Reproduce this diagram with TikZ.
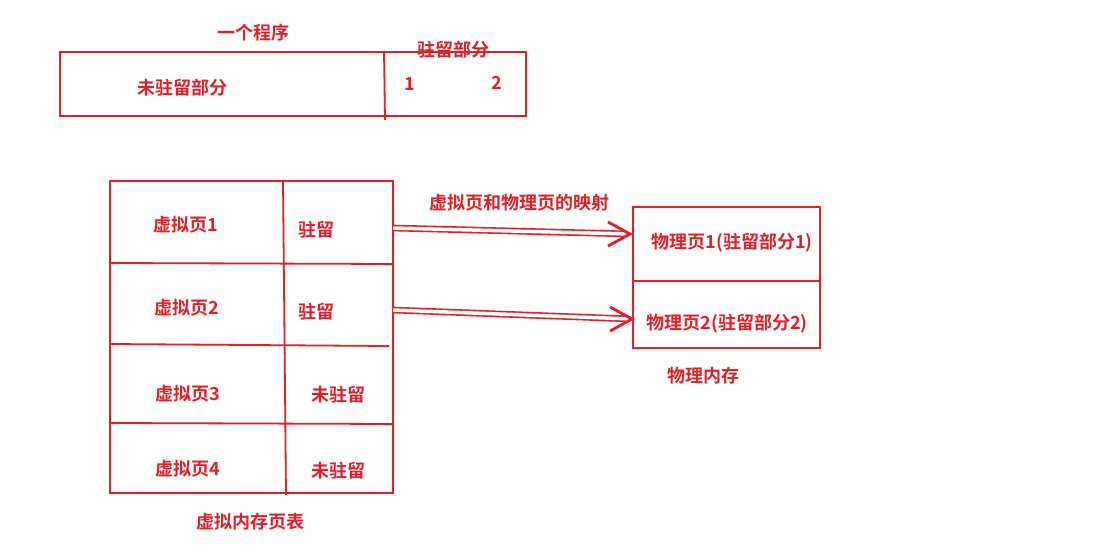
\documentclass[tikz,border=0pt]{standalone}
\usepackage{fontspec}
\setmainfont{Noto Sans CJK SC Bold}
\usetikzlibrary{arrows.meta, positioning, calc}
\definecolor{ink}{RGB}{232,28,36}

\begin{document}
\begin{tikzpicture}[
    x=1pt, y=-1pt,
    frame/.style={draw=ink, line width=1.8pt},
    txt/.style={font=\fontsize{18}{20}\selectfont, text=ink, inner sep=0pt},
    shaft/.style={draw=ink, double=white, double distance=3.5pt, line width=1.6pt, shorten >=6pt},
    headtip/.style={draw=ink, line width=2.8pt, line join=miter},
]
\useasboundingbox (0,0) rectangle (1119,553);

% Program
\node[txt] (progtitle) at (253,33) {一个程序};
\draw[frame] (60,52) rectangle (526,116);
\draw[frame] (384,52) -- (385,120);
\node[txt] (resident) at (453,50) {驻留部分};
\node[txt] (nonres) at (182,88) {未驻留部分};
\node[txt] (one) at (410,84) {1};
\node[txt] (two) at (497,83) {2};

% Virtual page table
\draw[frame] (110,181) rectangle (393,493);
\draw[frame] (283,181) -- (286,495);
\draw[frame] (110,263) -- (393,264);
\draw[frame] (110,344) -- (389,346);
\draw[frame] (110,423) -- (393,424);
\node[txt] (vp1) at (186,225) {虚拟页1};
\node[txt] (st1) at (316,230) {驻留};
\node[txt] (vp2) at (187,308) {虚拟页2};
\node[txt] (st2) at (316,312) {驻留};
\node[txt] (vp3) at (188,394) {虚拟页3};
\node[txt] (st3) at (338,395) {未驻留};
\node[txt] (vp4) at (188,469) {虚拟页4};
\node[txt] (st4) at (338,471) {未驻留};
\node[txt] (vtitle) at (250,522) {虚拟内存页表};

% Physical memory
\draw[frame] (633,207) rectangle (820,348);
\draw[frame] (633,281) -- (820,281);
\node[txt] (pp1) at (732,243) {物理页1(驻留部分1)};
\node[txt] (pp2) at (727,324) {物理页2(驻留部分2)};
\node[txt] (ptitle) at (703,376) {物理内存};

% Mapping
\node[txt] (maplabel) at (519,203) {虚拟页和物理页的映射};
\coordinate (v1out) at (393,228);
\coordinate (p1in) at (630,234);
\coordinate (v2out) at (393,310);
\coordinate (p2in) at (632,319);
\draw[shaft] (v1out) -- (p1in);
\draw[headtip] (p1in) +(-22,-12) -- (p1in) -- +(-22,12);
\draw[shaft] (v2out) -- (p2in);
\draw[headtip] (p2in) +(-22,-12) -- (p2in) -- +(-22,12);

\end{tikzpicture}
\end{document}
